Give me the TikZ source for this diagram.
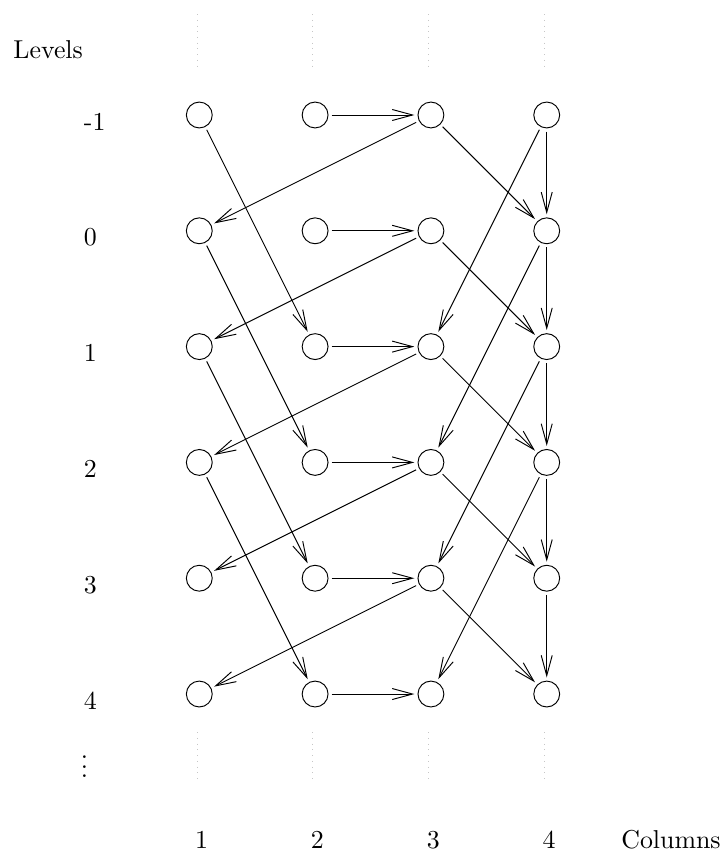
\documentclass[tikz,border=0pt]{standalone}
\usepackage{tikz}
\usetikzlibrary{arrows.meta}

\tikzset{
  vertex/.style={draw, circle, thin, minimum size=0.38cm, inner sep=0pt, outer sep=1.5pt},
  link/.style={-{Straight Barb[length=8.5pt,width=4.6pt]}, thin},
  guide/.style={gray!45, dotted, line width=0.4pt},
  lbl/.style={inner sep=0pt, font=\fontsize{10.8}{13}\selectfont},
}

\begin{document}
\begin{tikzpicture}[x=1.7cm, y=-1.7cm]
  \useasboundingbox (-0.721,-1.993) rectangle (5.531,5.390);

  % grid of vertices: column c, level l
  \foreach \c in {1,...,4}
    \foreach \l in {-1,...,4}
      \node[vertex] (v\c\l) at (\c,\l) {};

  % faint guides above and below each column
  \foreach \c in {1,...,4} {
    \draw[guide] (\c-0.02,-1.872) -- (\c-0.02,-1.423);
    \draw[guide] (\c-0.02,4.329) -- (\c-0.02,4.770);
  }

  % connections
  \foreach \l in {-1,...,4}
    \draw[link] (v2\l) -- (v3\l);
  \foreach \l [evaluate=\l as \m using int(\l+1)] in {-1,...,3} {
    \draw[link] (v3\l) -- (v1\m);
    \draw[link] (v3\l) -- (v4\m);
    \draw[link] (v4\l) -- (v4\m);
  }
  \foreach \l [evaluate=\l as \k using int(\l+2)] in {-1,...,2} {
    \draw[link] (v1\l) -- (v2\k);
    \draw[link] (v4\l) -- (v3\k);
  }

  % labels
  \node[lbl, anchor=base west] (levels) at (-0.609,-1.492) {Levels};
  \foreach \l in {-1,...,4}
    \node[lbl, anchor=base west] (lev\l) at (0,\l+0.13) {\l};
  \node[lbl, anchor=base west] (more) at (-0.026,4.725) {$\vdots$};
  \foreach \c in {1,...,4}
    \node[lbl, anchor=base] (col\c) at (\c+0.02,5.33) {\c};
  \node[lbl, anchor=base] (columns) at (5.073,5.33) {Columns};
\end{tikzpicture}
\end{document}
